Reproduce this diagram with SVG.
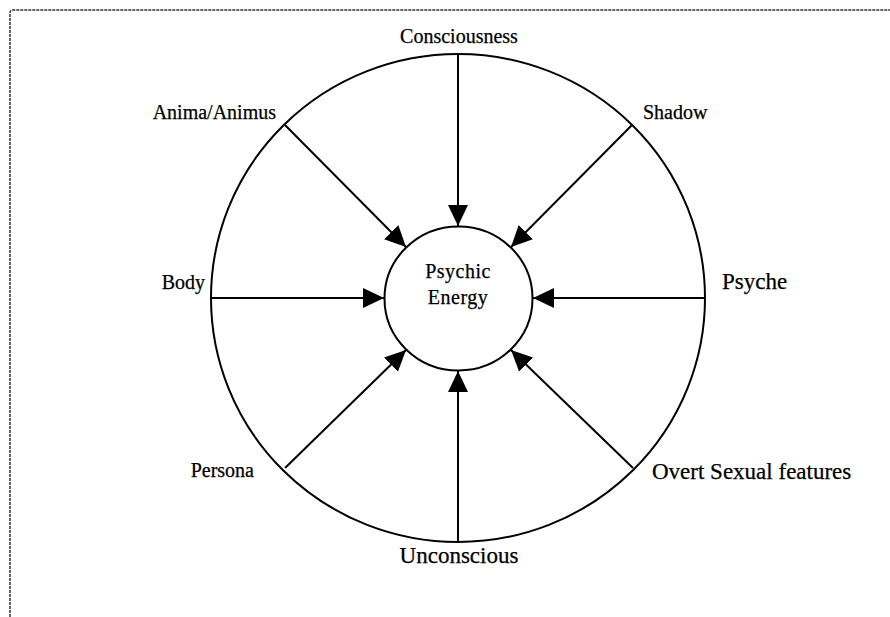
<svg xmlns="http://www.w3.org/2000/svg" width="890" height="617" viewBox="0 0 890 617">
<style>
text{font-family:"Liberation Serif","Times New Roman",serif;font-size:20px;fill:#000;stroke:#000;stroke-width:0.25}
.big{font-size:23px}
.c{fill:none;stroke:#000;stroke-width:2}
.a{stroke:#000;stroke-width:2;fill:none;marker-end:url(#h)}
.frame{fill:none;stroke:#333;stroke-width:1.5;stroke-dasharray:3 1}
</style>
<defs>
<marker id="h" markerUnits="userSpaceOnUse" markerWidth="24" markerHeight="22" refX="21" refY="10" orient="auto">
<path d="M0,0 L21,10 L0,20 z" fill="#000"/>
</marker>
</defs>
<rect width="890" height="617" fill="#fff"/>
<path class="frame" d="M10,617 L10,13 Q10,10 13,10 L890,10"/>
<g id="outer"><ellipse class="c" cx="458" cy="298" rx="247" ry="244"/></g>
<g id="center"><ellipse class="c" cx="458.5" cy="298.5" rx="74" ry="72"/>
<text x="458" y="278" text-anchor="middle" letter-spacing="0.5">Psychic</text>
<text x="458" y="304" text-anchor="middle" letter-spacing="0.5">Energy</text></g>
<g id="connectors">
<line class="a" x1="458" y1="54" x2="458" y2="226"/>
<line class="a" x1="458" y1="542" x2="458" y2="371"/>
<line class="a" x1="211" y1="298" x2="384" y2="298"/>
<line class="a" x1="705" y1="298" x2="533" y2="298"/>
<line class="a" x1="285" y1="125" x2="406" y2="247"/>
<line class="a" x1="632" y1="125" x2="511" y2="247"/>
<line class="a" x1="285" y1="468" x2="406" y2="350"/>
<line class="a" x1="633" y1="468" x2="511" y2="350"/>
</g>
<g id="consciousness"><text x="459" y="43" text-anchor="middle">Consciousness</text></g>
<g id="anima"><text x="276" y="119" text-anchor="end">Anima/Animus</text></g>
<g id="shadow"><text x="643" y="119">Shadow</text></g>
<g id="body"><text x="205" y="289" text-anchor="end">Body</text></g>
<g id="psyche"><text class="big" x="722" y="289">Psyche</text></g>
<g id="persona"><text x="254" y="477" text-anchor="end">Persona</text></g>
<g id="overt"><text class="big" x="652" y="479">Overt Sexual features</text></g>
<g id="unconscious"><text class="big" x="459" y="563" text-anchor="middle">Unconscious</text></g>
</svg>
